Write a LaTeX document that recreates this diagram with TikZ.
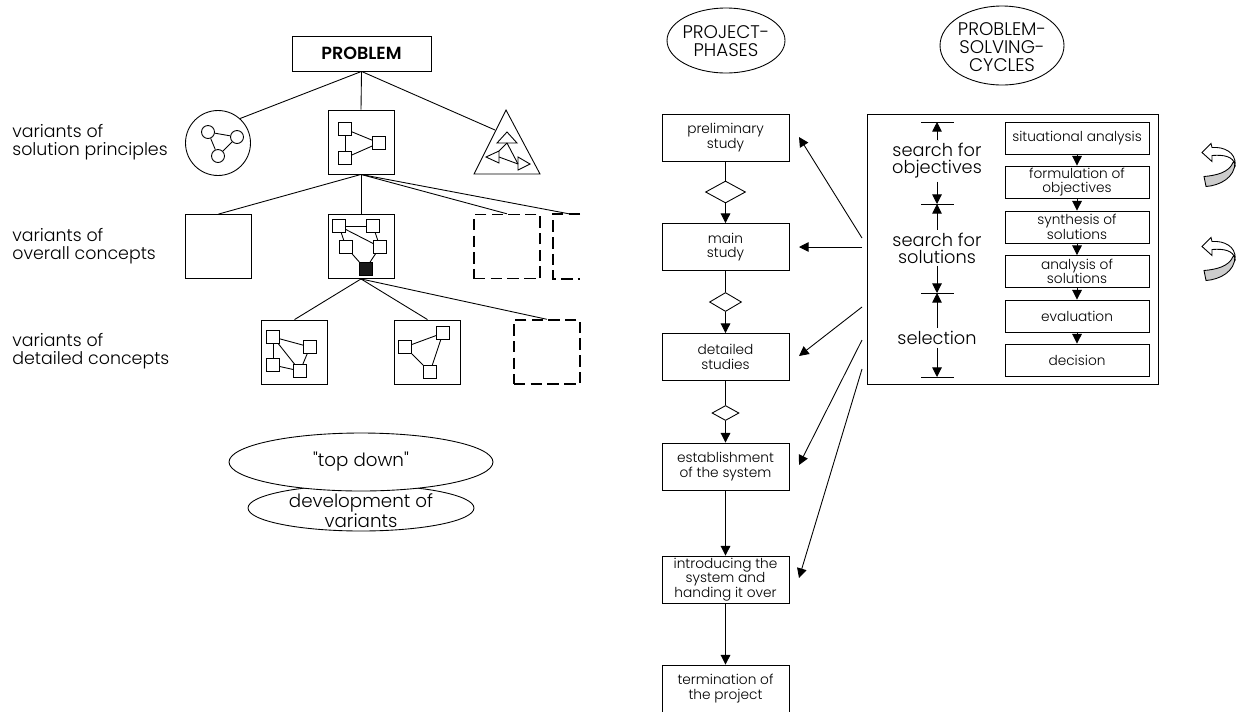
\documentclass[tikz,border=0pt]{standalone}
\usepackage{fontspec}
\setmainfont{Poppins}[UprightFont=* Light,BoldFont=* SemiBold,Ligatures=TeXOff]
\usetikzlibrary{arrows.meta,shapes.geometric}
\tikzset{
    >={Triangle[length=5.5pt,width=5.5pt]},
    every path/.style={line width=0.5pt},
    smalltext/.style={font=\fontsize{7.8}{8.3}\selectfont,align=center,inner sep=0pt},
    bigtext/.style={font=\fontsize{10.1}{9.7}\selectfont,align=center,inner sep=1.5pt},
    sidetext/.style={font=\fontsize{9.9}{10.2}\selectfont,align=left,anchor=west,inner sep=0pt},
    headtext/.style={font=\fontsize{10.4}{10.2}\selectfont,align=center,inner sep=0pt},
    varbox/.style={draw,minimum width=1.32cm,minimum height=1.28cm,inner sep=0pt},
    dashbox/.style={varbox,dash pattern=on 6.5pt off 3pt,line width=0.8pt},
    tinybox/.style={draw,fill=white,minimum size=0.26cm,inner sep=0pt},
    tinycirc/.style={draw,circle,minimum size=0.26cm,inner sep=0pt},
    phasebox/.style={smalltext,draw,minimum width=2.54cm,minimum height=0.94cm},
    stepbox/.style={smalltext,draw,minimum width=2.88cm,minimum height=0.64cm},
    gate/.style={draw,diamond,inner sep=0pt,aspect=1.8},
    oval/.style={draw,ellipse,inner sep=0pt},
    backarrow/.pic={
        \filldraw[fill=black!20] (33,10) .. controls (33,25) and (18,33) .. (4,34)
            -- (2,24) .. controls (14,23) and (27,20) .. (31,10) -- cycle;
        \filldraw[fill=white] (0,0) -- (9,-9) -- (10,-5)
            .. controls (22,-6) and (34,0) .. (33,12)
            .. controls (31,4) and (22,2) .. (10,3) -- (10,9) -- cycle;
    }
}
\begin{document}
\begin{tikzpicture}[x=0.02cm,y=-0.02cm]
        \useasboundingbox (0,0) rectangle (1239,711);

        %TREE
        \node[draw,minimum width=2.78cm,minimum height=0.7cm,inner sep=0pt,font=\fontsize{10}{11}\selectfont\bfseries] (problem) at (361.5,53.5) {PROBLEM};
        \node[draw,circle,minimum size=1.3cm,inner sep=0pt] (princa) at (218,143) {};
        \node[varbox] (princb) at (361,142) {};
        \coordinate (tria) at (506,110);
        \coordinate (trib) at (474,174);
        \coordinate (tric) at (540,174);
        \coordinate (trid) at (495,130);
        \draw (tria) -- (trib) -- (tric) -- cycle;
        \draw (problem.south) -- (princa.48);
        \draw (problem.south) -- (princb.north);
        \draw (problem.south) -- (trid);

        \node[varbox] (overa) at (218.5,246.5) {};
        \node[varbox] (overb) at (361,246.5) {};
        \node[dashbox] (overc) at (507,246.5) {};
        \coordinate (overd) at (570,214);
        \coordinate (overe) at (580,214);
        \coordinate (overf) at (553,279);
        \coordinate (overg) at (580,279);
        \draw[dash pattern=on 6.5pt off 3pt,line width=0.8pt] (overe) -| (overf) -- (overg);
        \draw (princb.south) -- (overa.north);
        \draw (princb.south) -- (overb.north);
        \draw (princb.south) -- (overc.north);
        \draw (princb.south) -- (overd);

        \node[varbox] (deta) at (294.5,352) {};
        \node[varbox] (detb) at (427.5,352) {};
        \node[dashbox] (detc) at (547,352) {};
        \draw (overb.south) -- (deta.north);
        \draw (overb.south) -- (detb.north);
        \draw (overb.south) -- (detc.north);

        %SKETCHES
        \node[tinycirc] (ca) at (208,132) {};
        \node[tinycirc] (cb) at (237,137) {};
        \node[tinycirc] (cc) at (218,156) {};
        \draw (ca) -- (cb);
        \draw (cb) -- (cc);
        \draw (ca) -- (cc);

        \node[tinybox] (sa) at (345,129) {};
        \node[tinybox] (sb) at (379,143) {};
        \node[tinybox] (sc) at (345,158) {};
        \draw (sa) -- (sb);
        \draw (sa) -- (sc);
        \draw (sc) -- (sb);

        \coordinate (ta) at (507,132);
        \coordinate (tb) at (497,143);
        \coordinate (tc) at (517,143);
        \coordinate (td) at (486,157);
        \coordinate (te) at (499,151);
        \coordinate (tf) at (499,163);
        \coordinate (tg) at (530,164);
        \coordinate (th) at (518,157);
        \coordinate (ti) at (518,170);
        \draw (ta) -- (tb) -- (tc) -- cycle;
        \draw (td) -- (te) -- (tf) -- cycle;
        \draw (tg) -- (th) -- (ti) -- cycle;
        \draw (507,143) -- (te);
        \draw (507,143) -- (518,164);
        \draw (499,157) -- (518,164);

        \node[tinybox] (oa) at (339,226) {};
        \node[tinybox] (ob) at (373,226) {};
        \node[tinybox] (oc) at (346,247) {};
        \node[tinybox] (od) at (380,247) {};
        \node[tinybox,fill=black!90] (oe) at (365.5,269) {};
        \draw (oa) -- (ob);
        \draw (oa) -- (oc);
        \draw (oa) -- (od);
        \draw (ob) -- (od);
        \draw (oc) -- (oe);
        \draw (od) -- (oe);

        \node[tinybox] (da) at (273,337) {};
        \node[tinybox] (db) at (310,347) {};
        \node[tinybox] (dc) at (273,365) {};
        \node[tinybox] (dd) at (300,371) {};
        \draw (da) -- (db);
        \draw (da) -- (dc);
        \draw (da) -- (dd);
        \draw (dc) -- (dd);
        \draw (db) -- (dd);

        \node[tinybox] (ea) at (405,347) {};
        \node[tinybox] (eb) at (443,333) {};
        \node[tinybox] (ec) at (430,372) {};
        \draw (ea) -- (eb);
        \draw (eb) -- (ec);
        \draw (ea) -- (ec);

        %LABELS
        \node[sidetext] (lsol) at (12,142) {variants of\\solution principles};
        \node[sidetext] (love) at (12,246) {variants of\\overall concepts};
        \node[sidetext] (ldet) at (12,351) {variants of\\detailed concepts};

        %OVALS
        \node[oval,minimum width=4.52cm,minimum height=0.92cm] (dev) at (361,508) {};
        \node[headtext] (devtext) at (361,511) {development of\\variants};
        \node[oval,fill=white,minimum width=5.28cm,minimum height=1.16cm,font=\fontsize{10.4}{11}\selectfont] (top) at (361,462) {"top down"};
        \node[oval,minimum width=2.36cm,minimum height=1.3cm] (phead) at (726,40.5) {};
        \node[headtext] (pheadtext) at (726,41) {PROJECT-\\PHASES};
        \node[oval,minimum width=2.48cm,minimum height=1.58cm] (chead) at (1002,45.5) {};
        \node[headtext] (cheadtext) at (1002,47) {PROBLEM-\\SOLVING-\\CYCLES};

        %PHASES
        \node[phasebox] (pa) at (725.5,137.5) {preliminary\\study};
        \node[phasebox] (pb) at (725.5,247) {main\\study};
        \node[phasebox] (pc) at (725.5,357) {detailed\\studies};
        \node[phasebox] (pd) at (725.5,466.5) {establishment\\of the system};
        \node[phasebox] (pe) at (725.5,579.5) {introducing the\\system and\\handing it over};
        \node[phasebox] (pf) at (725.5,688.5) {termination of\\the project};
        \node[gate,minimum width=0.8cm,minimum height=0.44cm] (ga) at (725.5,192) {};
        \node[gate,minimum width=0.64cm,minimum height=0.38cm] (gb) at (725.5,302) {};
        \node[gate,minimum width=0.54cm,minimum height=0.3cm] (gc) at (725.5,413) {};
        \draw (pa) -- (ga);
        \draw[->] (ga) -- (pb);
        \draw (pb) -- (gb);
        \draw[->] (gb) -- (pc);
        \draw (pc) -- (gc);
        \draw[->] (gc) -- (pd);
        \draw[->] (pd) -- (pe);
        \draw[->] (pe) -- (pf);

        %CYCLE
        \node[draw,minimum width=5.82cm,minimum height=5.4cm] (cyc) at (1012.5,249) {};
        \node[stepbox] (sta) at (1077,138) {situational analysis};
        \node[stepbox] (stb) at (1077,182) {formulation of\\objectives};
        \node[stepbox] (stc) at (1077,227) {synthesis of\\solutions};
        \node[stepbox] (std) at (1077,271.5) {analysis of\\solutions};
        \node[stepbox] (ste) at (1077,316) {evaluation};
        \node[stepbox] (stf) at (1077,360) {decision};
        \draw[->] (sta) -- (stb);
        \draw[->] (stb) -- (stc);
        \draw[->] (stc) -- (std);
        \draw[->] (std) -- (ste);
        \draw[->] (ste) -- (stf);

        \coordinate (tka) at (937,122);
        \coordinate (tkb) at (937,204);
        \coordinate (tkc) at (937,293);
        \coordinate (tkd) at (937,377);
        \draw (921,122) -- (954,122);
        \draw (921,204) -- (954,204);
        \draw (921,293) -- (954,293);
        \draw (921,377) -- (954,377);
        \node[bigtext] (obj) at (937,161) {search for\\objectives};
        \node[bigtext] (sol) at (937,248) {search for\\solutions};
        \node[bigtext] (sel) at (937,338) {selection};
        \draw[->] (obj) -- (tka);
        \draw[->] (obj) -- (tkb);
        \draw[->] (sol) -- (tkb);
        \draw[->] (sol) -- (tkc);
        \draw[->] (sel) -- (tkc);
        \draw[->] (sel) -- (tkd);

        %LINKS
        \coordinate (fa) at (862,238);
        \coordinate (fb) at (862,247);
        \coordinate (fc) at (862,307);
        \coordinate (fd) at (862,340);
        \coordinate (fe) at (862,369);
        \coordinate (aa) at (799,137);
        \coordinate (ab) at (799,247);
        \coordinate (ac) at (799,356);
        \coordinate (ad) at (799,465);
        \coordinate (ae) at (799,578);
        \draw[->] (fa) -- (aa);
        \draw[->] (fb) -- (ab);
        \draw[->] (fc) -- (ac);
        \draw[->] (fd) -- (ad);
        \draw[->] (fe) -- (ae);

        %TURNS
        \pic at (1202,152.5) {backarrow};
        \pic at (1202,246.5) {backarrow};
    \end{tikzpicture}
\end{document}
